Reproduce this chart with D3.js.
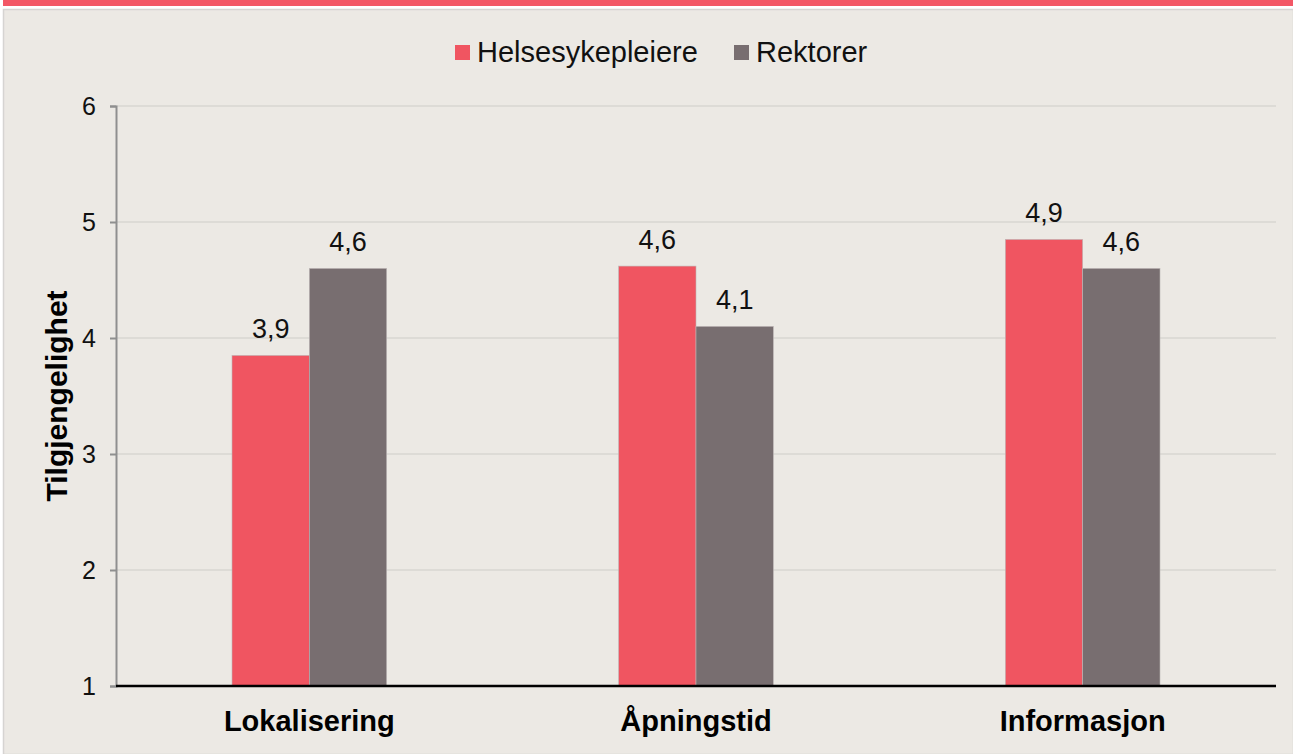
<!DOCTYPE html>
<html lang="no">
	<head>
		<meta charset="utf-8">
		<title>Tilgjengelighet</title>
		<script type="text/javascript" src="https://cdn.jsdelivr.net/npm/d3@7"></script>
		<style type="text/css">
			body { margin: 0; background: #fff; }
			svg { display: block; font-family: "Liberation Sans", Arial, sans-serif; }
		</style>
	</head>
	<body>
		<script type="text/javascript">

			//Data
			var categories = ["Lokalisering", "Åpningstid", "Informasjon"];
			var seriesNames = ["Helsesykepleiere", "Rektorer"];
			var helseValues = [3.85, 4.62, 4.85];
			var rektorValues = [4.6, 4.1, 4.6];
			var helseLabels = ["3,9", "4,6", "4,9"];
			var rektorLabels = ["4,6", "4,1", "4,6"];
			var yTicks = [1, 2, 3, 4, 5, 6];

			var colors = ["#f05561", "#786e70"];

			//Width and height
			var w = 1293;
			var h = 754;
			var margin = { left: 116, right: 17, top: 106, bottom: 68 };

			var svg = d3.select("body")
						.append("svg")
						.attr("width", w)
						.attr("height", h);

			//Top banner and panel
			svg.append("rect")
				.attr("x", 3).attr("y", 0)
				.attr("width", w - 3).attr("height", 6)
				.attr("fill", "#f35766");
			svg.append("rect")
				.attr("x", 3.5).attr("y", 9.5)
				.attr("width", w - 3).attr("height", h - 9)
				.attr("fill", "#ece9e4")
				.attr("stroke", "#d6d4d2")
				.attr("stroke-width", 1.5);

			//Scales
			var x0 = d3.scaleBand()
					.domain(categories)
					.range([margin.left, w - margin.right])
					.paddingInner(0.6)
					.paddingOuter(0.3);

			var x1 = d3.scaleBand()
					.domain(seriesNames)
					.range([0, x0.bandwidth()]);

			var yScale = d3.scaleLinear()
					.domain([1, 6])
					.range([h - margin.bottom, margin.top]);

			//Gridlines
			svg.append("g")
				.selectAll("line")
				.data(yTicks.slice(1))
				.enter()
				.append("line")
				.attr("x1", margin.left)
				.attr("x2", w - margin.right)
				.attr("y1", function(d) { return yScale(d); })
				.attr("y2", function(d) { return yScale(d); })
				.attr("stroke", "#d9d6d2")
				.attr("stroke-width", 1.5);

			//Bars
			var rows = categories.map(function(c, i) {
				return [
					{ cat: c, s: seriesNames[0], v: helseValues[i], label: helseLabels[i], color: colors[0] },
					{ cat: c, s: seriesNames[1], v: rektorValues[i], label: rektorLabels[i], color: colors[1] }
				];
			});
			var flat = [].concat.apply([], rows);

			svg.append("g")
				.selectAll("rect")
				.data(flat)
				.enter()
				.append("rect")
				.attr("x", function(d) { return x0(d.cat) + x1(d.s); })
				.attr("y", function(d) { return yScale(d.v); })
				.attr("width", x1.bandwidth())
				.attr("height", function(d) { return yScale(1) - yScale(d.v); })
				.attr("fill", function(d) { return d.color; })
				.attr("stroke", "#bdb7b6")
				.attr("stroke-width", 0.6);

			//Value labels
			svg.append("g")
				.selectAll("text")
				.data(flat)
				.enter()
				.append("text")
				.text(function(d) { return d.label; })
				.attr("x", function(d) { return x0(d.cat) + x1(d.s) + x1.bandwidth() / 2; })
				.attr("y", function(d) { return yScale(d.v) - 17; })
				.attr("text-anchor", "middle")
				.attr("font-size", "27px")
				.attr("fill", "#111");

			//Y axis
			var yAxis = d3.axisLeft(yScale)
					.tickValues(yTicks)
					.tickSize(6)
					.tickPadding(14)
					.tickFormat(d3.format("d"));

			var yg = svg.append("g")
				.attr("transform", "translate(" + margin.left + ",0)")
				.call(yAxis);
			yg.attr("font-size", null).attr("font-family", null);
			yg.select(".domain").attr("stroke", "#8f8f8f").attr("stroke-width", 2);
			yg.selectAll(".tick line").attr("stroke", "#8f8f8f").attr("stroke-width", 2);
			yg.selectAll(".tick text")
				.style("font-size", "25px")
				.attr("fill", "#111");

			//X axis line
			svg.append("line")
				.attr("x1", margin.left)
				.attr("x2", w - margin.right)
				.attr("y1", yScale(1))
				.attr("y2", yScale(1))
				.attr("stroke", "#000")
				.attr("stroke-width", 2.5);

			//Category labels
			svg.append("g")
				.selectAll("text")
				.data(categories)
				.enter()
				.append("text")
				.text(function(d) { return d; })
				.attr("x", function(d) { return x0(d) + x0.bandwidth() / 2; })
				.attr("y", 731)
				.attr("text-anchor", "middle")
				.attr("font-size", "29px")
				.attr("font-weight", "bold")
				.attr("fill", "#000");

			//Y axis title
			svg.append("text")
				.text("Tilgjengelighet")
				.attr("transform", "translate(67," + ((yScale(1) + yScale(6)) / 2) + ") rotate(-90)")
				.attr("text-anchor", "middle")
				.attr("font-size", "30px")
				.attr("font-weight", "bold")
				.attr("fill", "#000");

			//Legend
			var legendX = [455, 734];
			var legend = svg.append("g")
				.selectAll("g")
				.data(seriesNames)
				.enter()
				.append("g")
				.attr("transform", function(d, i) { return "translate(" + legendX[i] + ",45)"; });
			legend.append("rect")
				.attr("width", 15)
				.attr("height", 15)
				.attr("fill", function(d, i) { return colors[i]; });
			legend.append("text")
				.text(function(d) { return d; })
				.attr("x", 22)
				.attr("y", 16.5)
				.attr("font-size", "29px")
				.attr("fill", "#111");

		</script>
	</body>
</html>
